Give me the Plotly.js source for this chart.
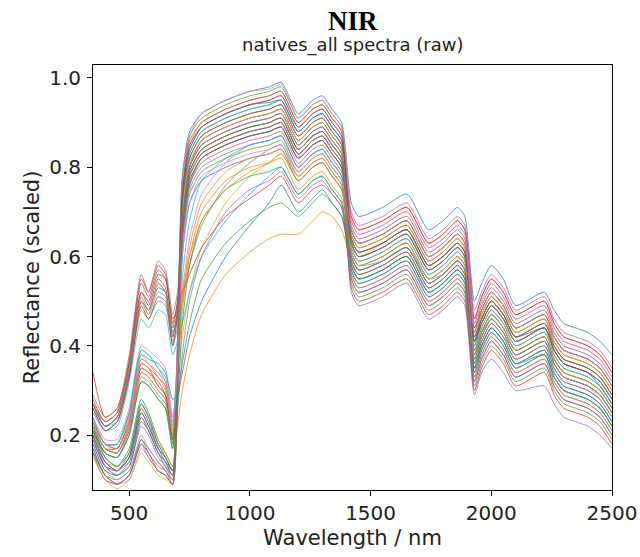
<!DOCTYPE html>
<html>
<head>
<meta charset="utf-8">
<script src="https://cdn.plot.ly/plotly-3.0.1.min.js"></script>
<style>html,body{margin:0;padding:0;background:#fff;}#chart{width:640px;height:557px;}</style>
</head>
<body>
<div id="chart"></div>
<script>
// Wavelength grid (nm)
const wavelengths = [350,400,450,500,550,580,620,650,680,700,720,750,800,900,1000,1080,1130,1200,1260,1300,1340,1380,1420,1450,1550,1650,1740,1800,1860,1890,1930,1960,2000,2050,2100,2220,2260,2300,2350,2400,2450,2500];

// Spectra (reflectance, scaled)
const s01 = [.22,.15,.13,.17,.28,.25,.19,.16,.13, .42,.78,.88,.92,.95,.97,.98, .99,.92,.95,.96,.93,.90,.72, .69,.71,.74,.66,.68,.71,.69,.50,.54,.58,.55,.49,.52,.48,.45,.44,.43,.41,.38];
const s02 = [.23,.18,.17,.23,.37,.36,.33,.30,.19, .38,.74,.85,.90,.93,.95,.96, .97,.90,.93,.94,.91,.88,.69, .66,.68,.71,.63,.65,.68,.66,.46,.51,.55,.52,.47,.50,.45,.42,.41,.40,.38,.34];
const s03 = [.19,.13,.11,.14,.24,.21,.16,.14,.11, .33,.72,.83,.88,.91,.93,.94, .95,.88,.91,.92,.89,.86,.66, .63,.65,.68,.60,.62,.65,.63,.43,.48,.52,.49,.44,.47,.42,.39,.38,.37,.35,.31];
const s04 = [.27,.22,.24,.35,.52,.49,.55,.53,.42, .48,.66,.80,.86,.89,.91,.92, .93,.86,.89,.90,.87,.84,.63, .60,.62,.65,.57,.59,.62,.60,.40,.45,.49,.46,.41,.44,.39,.36,.35,.34,.32,.28];
const s05 = [.21,.16,.15,.21,.34,.33,.30,.28,.18, .36,.68,.79,.84,.87,.89,.90, .91,.84,.87,.88,.85,.82,.65, .62,.64,.67,.59,.61,.64,.62,.42,.47,.51,.48,.43,.46,.41,.38,.37,.36,.34,.30];
const s06 = [.17,.11,.09,.11,.19,.16,.13,.12,.09, .30,.66,.77,.82,.85,.87,.88, .89,.82,.85,.86,.83,.80,.61, .58,.60,.63,.55,.57,.60,.58,.38,.43,.47,.44,.39,.42,.37,.34,.33,.32,.30,.26];
const s07 = [.24,.19,.19,.26,.40,.39,.37,.35,.24, .36,.52,.64,.74,.81,.85,.86, .87,.80,.83,.84,.81,.78,.59, .56,.58,.61,.53,.55,.58,.56,.36,.41,.45,.42,.37,.40,.35,.32,.31,.30,.28,.24];
const s08 = [.25,.21,.23,.33,.48,.46,.50,.49,.40, .44,.50,.58,.67,.76,.81,.84, .85,.78,.81,.82,.79,.76,.57, .54,.56,.59,.51,.53,.56,.54,.34,.39,.43,.40,.35,.38,.33,.30,.29,.28,.26,.22];
const s09 = [.22,.17,.16,.22,.35,.34,.31,.29,.19, .30,.42,.52,.62,.72,.78,.81, .83,.77,.80,.81,.78,.75,.63, .60,.63,.66,.58,.60,.63,.61,.41,.46,.50,.47,.42,.45,.40,.37,.36,.35,.33,.29];
const s10 = [.26,.21,.22,.32,.46,.44,.48,.47,.38, .41,.45,.52,.60,.68,.74,.78, .80,.74,.77,.78,.75,.72,.61, .58,.59,.62,.55,.56,.59,.57,.39,.43,.46,.43,.38,.41,.36,.33,.32,.31,.29,.25];
const s11 = [.23,.18,.18,.25,.38,.37,.36,.34,.28, .29,.34,.42,.50,.60,.67,.72, .76,.70,.73,.75,.72,.69,.58, .55,.57,.60,.52,.54,.57,.55,.35,.40,.44,.41,.36,.39,.34,.31,.30,.29,.27,.23];
const s12 = [.20,.14,.12,.15,.26,.23,.18,.16,.13, .22,.30,.38,.47,.56,.61,.64, .65,.65,.68,.70,.69,.66,.59, .56,.58,.61,.53,.55,.58,.56,.37,.42,.46,.43,.38,.41,.36,.33,.32,.31,.29,.25];
const s13 = [.22,.16,.15,.20,.32,.31,.28,.26,.17, .28,.36,.45,.55,.63,.68,.71, .72,.69,.72,.74,.72,.69,.60, .57,.59,.62,.54,.56,.59,.57,.38,.43,.47,.44,.39,.42,.37,.34,.33,.32,.30,.26];
const s14 = [.34,.24,.26,.36,.52,.50,.56,.55,.46, .48,.52,.56,.62,.69,.73,.76, .78,.72,.75,.76,.74,.71,.55, .52,.54,.57,.49,.51,.54,.52,.32,.37,.41,.38,.33,.36,.31,.28,.27,.26,.24,.20];
const s15 = [.20,.13,.11,.13,.22,.20,.15,.13,.10, .35,.74,.84,.89,.92,.94,.95, .96,.89,.92,.93,.90,.87,.70, .67,.69,.72,.64,.66,.69,.67,.48,.52,.56,.53,.48,.51,.46,.43,.42,.41,.39,.35];
const s16 = [.22,.17,.16,.22,.35,.34,.32,.29,.20, .37,.71,.82,.87,.90,.92,.93, .94,.87,.90,.91,.88,.85,.67, .64,.66,.69,.61,.63,.66,.64,.44,.49,.53,.50,.45,.48,.43,.40,.39,.38,.36,.32];
const s17 = [.16,.10,.09,.10,.17,.15,.12,.11,.09, .31,.69,.80,.85,.88,.90,.91, .92,.85,.88,.89,.86,.83,.64, .61,.63,.66,.58,.60,.63,.61,.41,.46,.50,.47,.42,.45,.40,.37,.36,.35,.33,.29];
const s18 = [.21,.14,.12,.16,.27,.24,.18,.15,.12, .34,.67,.78,.83,.86,.88,.89, .90,.83,.86,.87,.84,.81,.62, .59,.61,.64,.56,.58,.61,.59,.39,.44,.48,.45,.40,.43,.38,.35,.34,.33,.31,.27];
const s19 = [.23,.17,.17,.24,.38,.36,.34,.31,.21, .37,.64,.76,.81,.84,.86,.87, .88,.81,.84,.85,.82,.79,.65, .62,.64,.67,.59,.61,.64,.62,.43,.47,.51,.48,.43,.46,.41,.38,.37,.36,.34,.30];
const s20 = [.26,.22,.23,.34,.50,.47,.52,.51,.41, .46,.62,.74,.79,.82,.84,.85, .86,.79,.82,.83,.80,.77,.60, .57,.59,.62,.54,.56,.59,.57,.37,.42,.46,.43,.38,.41,.36,.33,.32,.31,.29,.25];
const s21 = [.19,.13,.12,.15,.25,.22,.17,.15,.12, .30,.60,.72,.77,.80,.82,.83, .84,.77,.80,.81,.78,.75,.58, .55,.57,.60,.52,.54,.57,.55,.35,.40,.44,.41,.36,.39,.34,.31,.30,.29,.27,.23];
const s22 = [.22,.17,.16,.22,.34,.33,.30,.28,.20, .33,.48,.60,.70,.77,.80,.81, .82,.75,.78,.79,.76,.73,.56, .53,.55,.58,.50,.52,.55,.53,.33,.38,.42,.39,.34,.37,.32,.29,.28,.27,.25,.21];
const s23 = [.17,.11,.10,.12,.19,.17,.14,.12,.10, .26,.45,.58,.68,.75,.78,.79, .80,.74,.77,.78,.75,.72,.54, .51,.53,.56,.48,.50,.53,.51,.31,.36,.40,.37,.32,.35,.30,.27,.26,.25,.23,.19];
const s24 = [.23,.18,.17,.23,.36,.35,.31,.29,.19, .36,.67,.78,.83,.86,.88,.89, .90,.83,.86,.87,.84,.81,.53, .50,.52,.55,.47,.49,.52,.50,.30,.35,.39,.36,.31,.34,.29,.26,.25,.24,.22,.18];
const s25 = [.20,.14,.12,.15,.26,.23,.17,.15,.12, .35,.70,.81,.86,.89,.91,.92, .93,.86,.89,.90,.87,.84,.52, .49,.51,.54,.46,.48,.51,.49,.29,.34,.37,.34,.30,.31,.27,.24,.23,.22,.20,.17];
const s26 = [.27,.23,.25,.36,.54,.51,.57,.55,.44, .50,.75,.86,.90,.93,.95,.96, .97,.90,.93,.94,.91,.88,.66, .63,.65,.68,.60,.62,.65,.63,.44,.48,.52,.49,.44,.47,.42,.39,.38,.37,.35,.31];
const s27 = [.18,.12,.10,.12,.20,.17,.14,.12,.10, .29,.65,.76,.81,.84,.86,.87, .88,.81,.84,.85,.82,.79,.68, .65,.67,.70,.62,.64,.67,.65,.45,.50,.54,.51,.46,.49,.44,.41,.40,.39,.37,.33];
const s28 = [.22,.17,.16,.21,.33,.32,.29,.27,.18, .35,.70,.80,.85,.88,.90,.91, .92,.85,.88,.89,.86,.83,.60, .57,.59,.62,.54,.56,.59,.57,.37,.42,.46,.43,.38,.41,.36,.33,.32,.31,.29,.25];
const s29 = [.20,.14,.13,.16,.27,.24,.19,.16,.13, .32,.63,.74,.79,.82,.84,.85, .86,.79,.82,.83,.80,.77,.63, .60,.62,.65,.57,.59,.62,.60,.40,.45,.49,.46,.41,.44,.39,.36,.35,.34,.32,.28];
const s30 = [.24,.18,.18,.25,.39,.38,.35,.32,.22, .39,.73,.83,.88,.91,.93,.94, .95,.88,.91,.92,.89,.86,.62, .59,.61,.64,.56,.58,.61,.59,.39,.44,.48,.45,.40,.43,.38,.35,.34,.33,.31,.27];
const s31 = [.27,.22,.24,.34,.50,.48,.53,.52,.43, .47,.64,.76,.82,.85,.87,.88, .89,.82,.85,.86,.83,.80,.57, .54,.56,.59,.51,.53,.56,.54,.34,.39,.43,.40,.35,.38,.33,.30,.29,.28,.26,.22];
const s32 = [.23,.17,.17,.23,.36,.35,.33,.31,.21, .34,.50,.62,.72,.79,.82,.83, .84,.78,.81,.82,.79,.76,.65, .62,.64,.67,.59,.61,.64,.62,.42,.47,.51,.48,.43,.46,.41,.38,.37,.36,.34,.30];
const s33 = [.21,.15,.13,.16,.27,.24,.18,.15,.12, .40,.77,.87,.91,.94,.96,.97, .98,.91,.94,.95,.92,.89,.64, .61,.63,.66,.58,.60,.63,.61,.41,.46,.50,.47,.42,.45,.40,.37,.36,.35,.33,.29];
const s34 = [.28,.23,.25,.37,.55,.52,.58,.56,.45, .50,.68,.79,.84,.87,.89,.90, .91,.84,.87,.88,.85,.82,.69, .66,.68,.71,.63,.65,.68,.66,.46,.51,.55,.52,.47,.50,.45,.42,.41,.40,.38,.34];
const s35 = [.16,.10,.09,.11,.18,.15,.12,.11,.09, .28,.63,.75,.80,.83,.85,.86, .87,.80,.83,.84,.81,.78,.55, .52,.54,.57,.49,.51,.54,.52,.32,.37,.41,.38,.33,.36,.31,.28,.27,.26,.24,.20];
const s36 = [.20,.14,.12,.15,.25,.22,.17,.14,.11, .36,.72,.82,.87,.90,.92,.93, .94,.87,.90,.91,.88,.85,.59, .56,.58,.61,.53,.55,.58,.56,.36,.41,.45,.42,.37,.40,.35,.32,.31,.30,.28,.24];
const s37 = [.22,.17,.16,.22,.36,.35,.33,.31,.20, .40,.77,.87,.92,.95,.97,.975, .985,.91,.94,.95,.92,.89,.68, .65,.67,.70,.62,.64,.67,.65,.45,.50,.54,.51,.46,.49,.44,.41,.40,.39,.37,.33];
const s38 = [.29,.24,.26,.38,.56,.52,.59,.57,.47, .52,.66,.78,.83,.86,.88,.89, .90,.83,.86,.87,.84,.81,.66, .63,.65,.68,.60,.62,.65,.63,.43,.48,.52,.49,.44,.47,.42,.39,.38,.37,.35,.31];
const s39 = [.15,.10,.08,.10,.16,.14,.11,.10,.09, .30,.70,.81,.86,.89,.91,.92, .93,.86,.89,.90,.87,.84,.61, .58,.60,.63,.55,.57,.60,.58,.37,.42,.46,.43,.38,.41,.36,.33,.32,.31,.28,.24];
const s40 = [.24,.18,.18,.25,.39,.38,.35,.33,.23, .35,.55,.68,.77,.82,.85,.86, .87,.80,.83,.84,.81,.78,.63, .60,.62,.65,.57,.59,.62,.60,.40,.45,.49,.46,.41,.44,.39,.36,.35,.34,.32,.28];
const s41 = [.18,.12,.11,.13,.23,.21,.16,.13,.11, .33,.73,.84,.89,.92,.94,.945, .95,.88,.91,.92,.89,.86,.64, .61,.63,.66,.58,.60,.63,.61,.42,.46,.50,.47,.42,.44,.39,.36,.35,.34,.31,.27];
const s42 = [.27,.23,.25,.35,.50,.47,.54,.52,.44, .46,.52,.60,.68,.75,.79,.81, .83,.77,.80,.81,.78,.75,.61, .58,.60,.63,.55,.57,.60,.58,.38,.43,.47,.44,.39,.42,.37,.34,.33,.32,.30,.26];
const s43 = [.21,.16,.15,.20,.32,.31,.28,.26,.17, .34,.68,.79,.84,.87,.89,.90, .91,.84,.87,.88,.85,.82,.58, .55,.57,.60,.52,.54,.57,.55,.35,.40,.44,.41,.36,.38,.33,.30,.29,.28,.26,.22];
const s44 = [.26,.21,.23,.33,.49,.46,.51,.50,.40, .47,.74,.85,.89,.92,.94,.95, .96,.89,.92,.93,.90,.87,.63, .60,.62,.65,.57,.59,.62,.60,.41,.45,.49,.46,.41,.44,.39,.36,.35,.34,.32,.28];
const s45 = [.19,.13,.12,.14,.24,.21,.16,.14,.12, .25,.38,.50,.60,.70,.75,.77, .79,.73,.76,.77,.74,.71,.60, .57,.59,.62,.54,.56,.59,.57,.37,.42,.46,.43,.38,.41,.36,.33,.32,.31,.29,.25];
const s46 = [.16,.11,.09,.11,.18,.16,.12,.11,.09, .29,.66,.77,.82,.85,.87,.88, .89,.82,.85,.86,.83,.80,.64, .61,.63,.66,.58,.60,.63,.61,.41,.46,.50,.47,.42,.45,.40,.37,.36,.35,.33,.29];
const s47 = [.23,.18,.17,.24,.37,.36,.34,.32,.22, .35,.60,.72,.78,.81,.83,.84, .85,.79,.82,.83,.80,.77,.66, .63,.65,.68,.60,.62,.65,.63,.43,.48,.52,.49,.44,.47,.42,.39,.38,.37,.35,.31];
const s48 = [.27,.22,.24,.35,.51,.48,.54,.52,.42, .48,.68,.80,.85,.88,.90,.91, .92,.85,.88,.89,.86,.83,.56, .53,.55,.58,.50,.52,.55,.53,.33,.38,.42,.39,.34,.37,.32,.29,.28,.27,.25,.21];

const spectra = [s01,s02,s03,s04,s05,s06,s07,s08,s09,s10,s11,s12,s13,s14,s15,s16,s17,s18,s19,s20,s21,s22,s23,s24,
                 s25,s26,s27,s28,s29,s30,s31,s32,s33,s34,s35,s36,s37,s38,s39,s40,s41,s42,s43,s44,s45,s46,s47,s48];

const xTicks = [500,1000,1500,2000,2500];
const yTicks = [0.2,0.4,0.6,0.8,1.0];
const yTickText = ['0.2','0.4','0.6','0.8','1.0'];

const tab10 = ['#1f77b4','#ff7f0e','#2ca02c','#d62728','#9467bd','#8c564b','#e377c2','#7f7f7f','#bcbd22','#17becf'];

const traces = spectra.map((s, i) => ({
  x: wavelengths, y: s, type: 'scatter', mode: 'lines',
  line: {color: tab10[i % 10], width: 1, shape: 'spline', smoothing: 0.6},
  opacity: 0.75, hoverinfo: 'skip', showlegend: false
}));

const font = "'DejaVu Sans', sans-serif";
const layout = {
  width: 640, height: 557,
  margin: {l: 93, r: 28, t: 65, b: 67},
  paper_bgcolor: '#fff', plot_bgcolor: '#fff',
  showlegend: false,
  xaxis: {
    range: [350, 2500], tickvals: xTicks, ticktext: xTicks.map(String),
    ticks: 'outside', ticklen: 5, tickcolor: '#000', tickwidth: 1, ticklabelstandoff: 0,
    showline: true, linecolor: '#000', linewidth: 1, mirror: true,
    showgrid: false, zeroline: false,
    tickfont: {family: font, size: 20, color: '#222'},
    title: {text: 'Wavelength / nm', font: {family: font, size: 21, color: '#222'}, standoff: 6}
  },
  yaxis: {
    range: [0.077, 1.029], tickvals: yTicks, ticktext: yTickText,
    ticks: 'outside', ticklen: 5, tickcolor: '#000', tickwidth: 1, ticklabelstandoff: 2,
    showline: true, linecolor: '#000', linewidth: 1, mirror: true,
    showgrid: false, zeroline: false,
    tickfont: {family: font, size: 20, color: '#222'},
    title: {text: 'Reflectance (scaled)', font: {family: font, size: 21, color: '#222'}, standoff: 3}
  },
  annotations: [
    {text: '<b>NIR</b>', xref: 'paper', yref: 'paper', x: 0.5, y: 1, xanchor: 'center', yanchor: 'bottom',
     yshift: 28, borderpad: 0, showarrow: false, font: {family: "'Liberation Serif', 'Times New Roman', serif", size: 27, color: '#000'}},
    {text: 'natives_all spectra (raw)', xref: 'paper', yref: 'paper', x: 0.5, y: 1, xanchor: 'center', yanchor: 'bottom',
     yshift: 8, borderpad: 0, showarrow: false, font: {family: font, size: 18, color: '#222'}}
  ]
};

Plotly.newPlot('chart', traces, layout, {staticPlot: true, displayModeBar: false});
</script>
</body>
</html>
